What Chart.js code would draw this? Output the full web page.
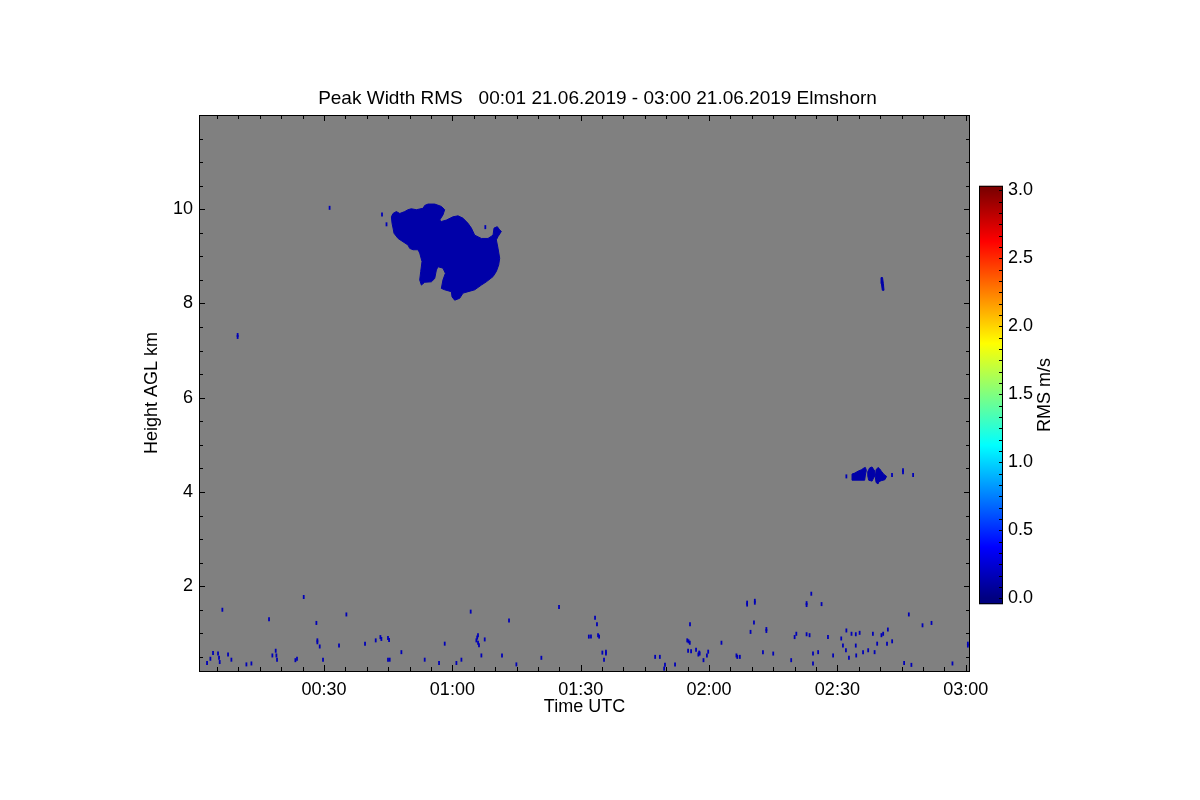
<!DOCTYPE html>
<html>
<head>
<meta charset="utf-8">
<script src="https://cdn.jsdelivr.net/npm/chart.js@4.4.1/dist/chart.umd.min.js"></script>
<style>
  body { margin: 0; background: #fff; }
  #wrap { position: relative; width: 1200px; height: 800px; }
  #cbar { position: absolute; left: 979px; top: 170px; }
</style>
</head>
<body>
<div id="wrap">
  <canvas id="main" width="1200" height="800"></canvas>
  <canvas id="cbar" width="100" height="450"></canvas>
</div>
<script>
// minutes after 00:00 UTC, height in km
const tMin = 0.77, tMax = 181;
const hMin = 0.2, hMax = 12;
const xMajor = [30, 60, 90, 120, 150, 180];
const xMinor = [5, 10, 15, 20, 25, 35, 40, 45, 50, 55, 65, 70, 75, 80, 85, 95, 100, 105, 110, 115,
                125, 130, 135, 140, 145, 155, 160, 165, 170, 175];
const yMajor = [2, 4, 6, 8, 10];
const yMinor = [0.5, 1, 1.5, 2.5, 3, 3.5, 4.5, 5, 5.5, 6.5, 7, 7.5, 8.5, 9, 9.5, 10.5, 11, 11.5];
const cbTicks = [0, 0.5, 1, 1.5, 2, 2.5, 3];
const cbMin = -0.044, cbMax = 3.034;
const jetStops = [[0, '#000080'], [0.125, '#0000ff'], [0.375, '#00ffff'], [0.625, '#ffff00'], [0.875, '#ff0000'], [1, '#800000']];

// cirrus cloud ~00:45-01:11 (outline)
const cloudOutline = [
  [45.74, 9.84], [46.13, 9.91], [46.9, 9.95], [47.7, 9.91], [48.85, 9.95], [49.63, 9.99], [50.4, 10.01],
  [51.58, 9.99], [53.14, 10.02], [53.53, 10.08], [54.31, 10.11], [55.87, 10.11], [57.42, 10.06], [58.2, 9.99],
  [57.8, 9.88], [57.03, 9.77], [57.42, 9.74], [58.6, 9.77], [60.15, 9.84], [61.32, 9.86], [62.49, 9.81],
  [63.66, 9.70], [64.44, 9.60], [65.22, 9.45], [66.77, 9.38], [68.33, 9.38], [69.5, 9.45], [69.74, 9.60],
  [70.5, 9.63], [71.06, 9.56], [71.45, 9.53], [70.67, 9.42], [70.28, 9.35], [70.67, 9.17], [71.06, 8.96],
  [70.83, 8.82], [70.28, 8.68], [69.5, 8.57], [67.94, 8.46], [66.77, 8.39], [65.22, 8.29], [63.66, 8.25],
  [62.49, 8.22], [61.71, 8.11], [60.54, 8.07], [59.92, 8.14], [59.76, 8.25], [58.2, 8.29], [57.42, 8.32],
  [57.8, 8.5], [58.36, 8.64], [57.8, 8.75], [56.64, 8.78], [56.26, 8.71], [55.87, 8.53], [55.09, 8.46],
  [53.53, 8.45], [52.75, 8.39], [52.36, 8.5], [52.6, 8.68], [52.9, 8.89], [52.36, 9.07], [51.97, 9.14],
  [50.8, 9.14], [50.02, 9.17], [49.63, 9.24], [48.46, 9.31], [47.3, 9.38], [46.36, 9.49], [46.13, 9.60],
  [45.9, 9.70]
];
// mid level patch ~02:33-02:42 at 4.3 km
const patchA = [[153.42, 4.38], [154.05, 4.40], [154.82, 4.44], [155.6, 4.47], [156.23, 4.51], [156.54, 4.52],
  [156.77, 4.46], [156.54, 4.36], [156.38, 4.25], [154.82, 4.25], [153.42, 4.25]];
const patchB = [[157.1, 4.43], [157.55, 4.51], [158.1, 4.53], [158.6, 4.46], [158.6, 4.32], [158.1, 4.23],
  [157.32, 4.25], [157.1, 4.34]];
const patchC = [[159.05, 4.47], [159.5, 4.52], [159.89, 4.49], [160.28, 4.44], [160.9, 4.37], [161.5, 4.33],
  [161.1, 4.26], [160.28, 4.24], [159.73, 4.22], [159.5, 4.17], [159.05, 4.20], [158.85, 4.32]];
const streak8 = [[160.2, 8.55], [160.55, 8.55], [160.75, 8.42], [160.9, 8.28], [160.5, 8.28], [160.3, 8.42]];

// isolated echoes
const specks = [
  [31.3, 10.03], [9.8, 7.33], [9.8, 7.29], [43.55, 9.89], [44.6, 9.68], [67.7, 9.62],
  [152.1, 4.33], [162.77, 4.36], [165.34, 4.46], [165.34, 4.42], [167.7, 4.36],
  [2.65, 0.37], [3.43, 0.46], [4.05, 0.58], [5.22, 0.57], [5.45, 0.48], [5.61, 0.39], [6.23, 1.50],
  [7.56, 0.55], [8.34, 0.44], [11.85, 0.34], [13.02, 0.36], [17.14, 1.30], [17.92, 0.53], [18.70, 0.63],
  [18.86, 0.53], [19.01, 0.44], [23.30, 0.43], [23.68, 0.46], [25.25, 1.77], [28.21, 1.22], [28.44, 0.85],
  [28.44, 0.81], [28.99, 0.72], [29.76, 0.44], [33.5, 0.74], [35.22, 1.40], [39.58, 0.78], [42.08, 0.85],
  [43.17, 0.92], [43.4, 0.88], [44.95, 0.90], [45.2, 0.86], [44.95, 0.44], [45.35, 0.44], [48.08, 0.60],
  [53.53, 0.44], [56.88, 0.37], [58.21, 0.78], [60.94, 0.37], [62.11, 0.44], [64.28, 1.46], [65.61, 0.85],
  [65.99, 0.96], [65.8, 0.91], [66.0, 0.80], [66.22, 0.745], [66.78, 0.53], [67.56, 0.87], [71.6, 0.53],
  [73.24, 1.27], [74.96, 0.34], [80.8, 0.48], [84.93, 1.56],
  [93.35, 1.33], [93.8, 1.19], [91.9, 0.93], [92.4, 0.93], [94.05, 0.96], [94.3, 0.93], [95.06, 0.59],
  [95.9, 0.61], [95.9, 0.57], [95.45, 0.44], [107.4, 0.50], [108.5, 0.50], [109.7, 0.33], [109.5, 0.25],
  [112.05, 0.34], [115.55, 1.19], [114.9, 0.85], [115.2, 0.83], [115.5, 0.80], [115.1, 0.63], [115.8, 0.62],
  [116.96, 0.65], [117.7, 0.59], [117.5, 0.55], [117.8, 0.57], [118.7, 0.43], [119.5, 0.53], [119.8, 0.61],
  [122.9, 0.80], [126.4, 0.53], [126.6, 0.50], [127.2, 0.50], [128.9, 1.65], [128.9, 1.61], [130.7, 1.69],
  [130.7, 1.65], [130.5, 1.23], [129.7, 1.03], [133.4, 1.09], [133.4, 1.05], [132.6, 0.60], [135.0, 0.57],
  [139.2, 0.43], [140.0, 0.92], [140.4, 0.99], [142.8, 1.64], [142.8, 1.60], [142.8, 0.98], [143.5, 0.96],
  [143.9, 1.84], [144.3, 0.57], [144.3, 0.36], [145.5, 0.60], [146.3, 1.62], [147.8, 0.92], [149.0, 0.53],
  [150.9, 0.89], [151.3, 0.74], [152.1, 1.06], [152.0, 0.64], [152.7, 0.48], [153.3, 0.99], [154.3, 0.98],
  [154.3, 0.74], [154.4, 0.53], [155.2, 1.01], [156.0, 0.60], [157.2, 0.64], [158.3, 0.99], [158.7, 0.60],
  [159.3, 0.78], [160.3, 0.96], [160.7, 0.99], [161.6, 0.78], [161.8, 1.08], [162.8, 0.83], [165.6, 0.37],
  [166.7, 1.40], [167.3, 0.33], [169.9, 1.17], [172.0, 1.22], [176.9, 0.36], [180.5, 0.78], [180.5, 0.74]
];

const titleText = 'Peak Width RMS   00:01 21.06.2019 - 03:00 21.06.2019 Elmshorn';
const FONT = '"Liberation Sans", Arial, Helvetica, sans-serif';
Chart.defaults.font.family = FONT;
Chart.defaults.color = '#000';

const cloudColor = '#0000a8';
const pts = arr => arr.map(p => ({ x: p[0], y: p[1] }));
const closed = arr => pts(arr.concat([arr[0]]));
const shape = arr => ({
  data: closed(arr), showLine: true, fill: 'shape', tension: 0,
  backgroundColor: cloudColor, borderColor: cloudColor, borderWidth: 1, pointRadius: 0
});

function hhmm(v) {
  const h = Math.floor(v / 60), m = Math.round(v % 60);
  return String(h).padStart(2, '0') + ':' + String(m).padStart(2, '0');
}

// grauer Hintergrund, Rahmen und nach innen zeigende Ticks
const frame = {
  id: 'frame',
  beforeDatasetsDraw(chart) {
    const { ctx, chartArea: a } = chart;
    ctx.save();
    ctx.fillStyle = '#808080';
    ctx.fillRect(a.left, a.top, a.right - a.left, a.bottom - a.top);
    ctx.restore();
  },
  afterDraw(chart) {
    const { ctx, chartArea: a, scales: { x, y } } = chart;
    ctx.save();
    ctx.strokeStyle = '#000';
    ctx.lineWidth = 1;
    ctx.strokeRect(a.left + 0.5, a.top + 0.5, a.right - a.left - 1, a.bottom - a.top);
    ctx.beginPath();
    const xt = (v, len) => {
      const p = Math.round(x.getPixelForValue(v)) + 0.5;
      ctx.moveTo(p, a.bottom); ctx.lineTo(p, a.bottom - len);
      ctx.moveTo(p, a.top); ctx.lineTo(p, a.top + len);
    };
    const yt = (v, len) => {
      const p = Math.round(y.getPixelForValue(v)) + 0.5;
      ctx.moveTo(a.left, p); ctx.lineTo(a.left + len, p);
      ctx.moveTo(a.right, p); ctx.lineTo(a.right - len, p);
    };
    xMinor.forEach(v => xt(v, 4));
    xMajor.forEach(v => xt(v, 6));
    yMinor.forEach(v => yt(v, 4));
    yMajor.forEach(v => yt(v, 6));
    ctx.stroke();
    ctx.restore();
  }
};

new Chart(document.getElementById('main'), {
  type: 'scatter',
  data: {
    datasets: [
      shape(cloudOutline), shape(patchA), shape(patchB), shape(patchC), shape(streak8),
      {
        data: pts(specks), showLine: false, pointStyle: 'line', pointRotation: 90,
        pointRadius: 2, borderColor: '#0000b8', borderWidth: 1.8, backgroundColor: '#0000b8'
      }
    ]
  },
  options: {
    responsive: false,
    animation: false,
    devicePixelRatio: 1,
    events: [],
    layout: { padding: { left: 0, right: 5, top: 0, bottom: 0 } },
    plugins: {
      legend: { display: false },
      tooltip: { enabled: false },
      title: {
        display: true, text: titleText, color: '#000',
        font: { size: 19, weight: 'normal' },
        padding: { top: 87, bottom: 5.2 }
      }
    },
    scales: {
      x: {
        type: 'linear', position: 'bottom', min: tMin, max: tMax,
        afterBuildTicks: s => { s.ticks = xMajor.map(v => ({ value: v })); },
        afterFit: s => { s.height = 129; },
        grid: { display: false, drawTicks: false },
        border: { display: false },
        ticks: { callback: v => hhmm(v), font: { size: 18 }, padding: 8, maxRotation: 0, autoSkip: false },
        title: { display: true, text: 'Time UTC', font: { size: 18 }, padding: { top: 0, bottom: 82.5 } }
      },
      y: {
        type: 'linear', position: 'left', min: hMin, max: hMax,
        afterBuildTicks: s => { s.ticks = yMajor.map(v => ({ value: v })); },
        afterFit: s => { s.width = 199; },
        grid: { display: false, drawTicks: false },
        border: { display: false },
        ticks: { font: { size: 18 }, padding: 6 },
        title: { display: true, text: 'Height AGL km', font: { size: 18 }, padding: { top: 141, bottom: 0 } }
      },
      yr: {
        type: 'linear', position: 'right', min: hMin, max: hMax,
        afterFit: s => { s.width = 225; },
        grid: { display: false, drawTicks: false },
        border: { display: false },
        ticks: { display: false }
      }
    }
  },
  plugins: [frame]
});

// Farbskala
const cbDecor = {
  id: 'cbDecor',
  afterDraw(chart) {
    const { ctx, chartArea: a, scales: { y } } = chart;
    ctx.save();
    ctx.strokeStyle = '#000';
    ctx.lineWidth = 1;
    ctx.strokeRect(a.left + 0.5, a.top + 0.5, a.right - a.left - 1, a.bottom - a.top - 1);
    ctx.beginPath();
    for (let i = 0; i <= 36; i++) {
      const p = Math.round(y.getPixelForValue(i / 12)) + 0.5;
      ctx.moveTo(a.right - 1, p); ctx.lineTo(a.right - 4, p);
    }
    ctx.stroke();
    ctx.fillStyle = '#000';
    ctx.font = '18px ' + FONT;
    ctx.textAlign = 'center';
    ctx.textBaseline = 'middle';
    ctx.translate(66, (a.top + a.bottom) / 2);
    ctx.rotate(-Math.PI / 2);
    ctx.fillText('RMS m/s', 0, 0);
    ctx.restore();
  }
};

new Chart(document.getElementById('cbar'), {
  type: 'bar',
  data: {
    labels: ['RMS'],
    datasets: [{
      data: [[cbMin, cbMax]],
      barPercentage: 1, categoryPercentage: 1, borderWidth: 0,
      backgroundColor: c => {
        const ch = c.chart;
        if (!ch.chartArea) return '#000080';
        const y = ch.scales.y;
        const g = ch.ctx.createLinearGradient(0, y.getPixelForValue(0), 0, y.getPixelForValue(3));
        jetStops.forEach(s => g.addColorStop(s[0], s[1]));
        return g;
      }
    }]
  },
  options: {
    responsive: false,
    animation: false,
    devicePixelRatio: 1,
    events: [],
    layout: { padding: { left: 0, right: 0, top: 12.3, bottom: 15 } },
    plugins: { legend: { display: false }, tooltip: { enabled: false }, title: { display: false } },
    scales: {
      x: { display: false },
      y: {
        position: 'right', min: cbMin, max: cbMax,
        afterBuildTicks: s => { s.ticks = cbTicks.map(v => ({ value: v })); },
        afterFit: s => { s.width = 76; },
        grid: { display: false, drawTicks: false },
        border: { display: false },
        ticks: { callback: v => v.toFixed(1), font: { size: 18 }, padding: 5 }
      }
    }
  },
  plugins: [cbDecor]
});
</script>
</body>
</html>
